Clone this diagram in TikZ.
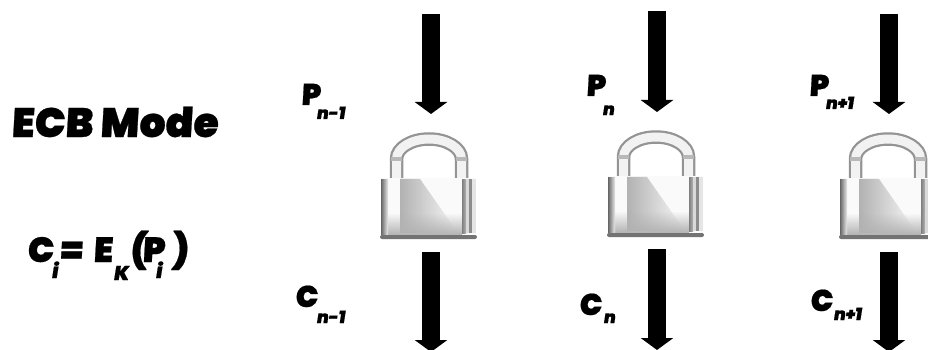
\documentclass[tikz,border=0pt]{standalone}
\usepackage{fontspec}
\usetikzlibrary{arrows.meta,fadings}
\newfontfamily\heavy[FakeSlant=0.06,FakeBold=0.6]{Poppins Black}
\newfontfamily\heavysub[FakeSlant=0.16,FakeBold=0.6]{Poppins Black}
\tikzset{
  x=1pt,y=-1pt,
  bigarrow/.style={line width=18pt,-{Triangle[width=32pt,length=12pt]},black},
  lbl/.style={inner sep=0pt,anchor=base west,font=\heavy\fontsize{30}{30}\selectfont},
  sublbl/.style={inner sep=0pt,anchor=base west,font=\heavysub\fontsize{17}{17}\selectfont},
  titlelbl/.style={inner sep=0pt,anchor=base west,font=\heavy\fontsize{41}{41}\selectfont},
  eqlbl/.style={inner sep=0pt,anchor=base west,font=\heavy\fontsize{35}{35}\selectfont},
  eqsub/.style={inner sep=0pt,anchor=base west,font=\heavysub\fontsize{20}{20}\selectfont},
  padlock/.pic={
    % shackle
    \draw[line width=13.5pt,black!42]
      (16.5,46) -- (16.5,26) arc[start angle=180,end angle=0,x radius=32.5,y radius=-20] -- (81.5,46);
    \draw[line width=9pt,black!5]
      (16.5,46) -- (16.5,26) arc[start angle=180,end angle=0,x radius=32.5,y radius=-20] -- (81.5,46);
    \fill[black!28] (11,24) rectangle (22,28);
    \fill[black!28] (76,24) rectangle (87,28);
    % body
    \fill[black!2] (1,45) rectangle (96,103);
    \fill[black!30,path fading=east] (20,46) -- (40,46) -- (78,100) -- (20,100) -- cycle;
    \fill[black!30,path fading=north] (2,80) rectangle (82,102);
    \shade[left color=black!60,right color=black!8] (1,46) rectangle (8,101);
    \shade[left color=black!50,right color=black!30] (82,46) rectangle (86,100);
    \fill[black!15] (86,46) rectangle (89,100);
    \fill[black!45] (89,46) rectangle (92,100);
    \fill[black!10] (92,46) rectangle (96,100);
    \fill[rounded corners=2pt,black!55] (0,102) rectangle (97,106);
  }
}
\begin{document}
\begin{tikzpicture}
\useasboundingbox (0,0) rectangle (928,350);
\begin{scope}
\clip (0,0) rectangle (928,350);
% padlocks
\pic at (380,133) {padlock};
\pic at (607,131) {padlock};
\pic at (839,133) {padlock};
% arrow ends
\coordinate (p1s) at (431,14);  \coordinate (p1e) at (431,114);
\coordinate (p2s) at (657,11);  \coordinate (p2e) at (657,112);
\coordinate (p3s) at (889,14);  \coordinate (p3e) at (889,114);
\coordinate (c1s) at (431,252); \coordinate (c1e) at (431,352);
\coordinate (c2s) at (657,249); \coordinate (c2e) at (657,350);
\coordinate (c3s) at (889,252); \coordinate (c3e) at (889,352);
\foreach \a/\b in {p1s/p1e,p2s/p2e,p3s/p3e,c1s/c1e,c2s/c2e,c3s/c3e}
  \draw[bigarrow] (\a) -- (\b);
\end{scope}
% title and formula
\node[titlelbl] (title) at (11,137) {ECB Mode};
\node[eqlbl] (c) at (27,262) {C};
\node[eqsub] (ci) at (51,278) {i};
\node[eqlbl] (eq) at (60,262) {=};
\node[eqlbl] (e) at (93,262) {E};
\node[eqsub] (k) at (113,280) {K};
\node[eqlbl] (lp) at (130,262) {(};
\node[eqlbl] (pp) at (142,262) {P};
\node[eqsub] (pi) at (155,278) {i};
\node[eqlbl] (rp) at (172,262) {)};
% labels
\node[lbl] (p1) at (301,105) {P};
\node[sublbl] (p1n) at (316,119) {n-1};
\node[lbl] (c1) at (295,307) {C};
\node[sublbl] (c1n) at (316,323) {n-1};
\node[lbl] (p2) at (586,96) {P};
\node[sublbl] (p2n) at (602,115) {n};
\node[lbl] (c2) at (579,315) {C};
\node[sublbl] (c2n) at (603,323) {n};
\node[lbl] (p3) at (809,96) {P};
\node[sublbl] (p3n) at (825,109) {n+1};
\node[lbl] (c3) at (810,311) {C};
\node[sublbl] (c3n) at (833,320) {n+1};
\end{tikzpicture}
\end{document}
